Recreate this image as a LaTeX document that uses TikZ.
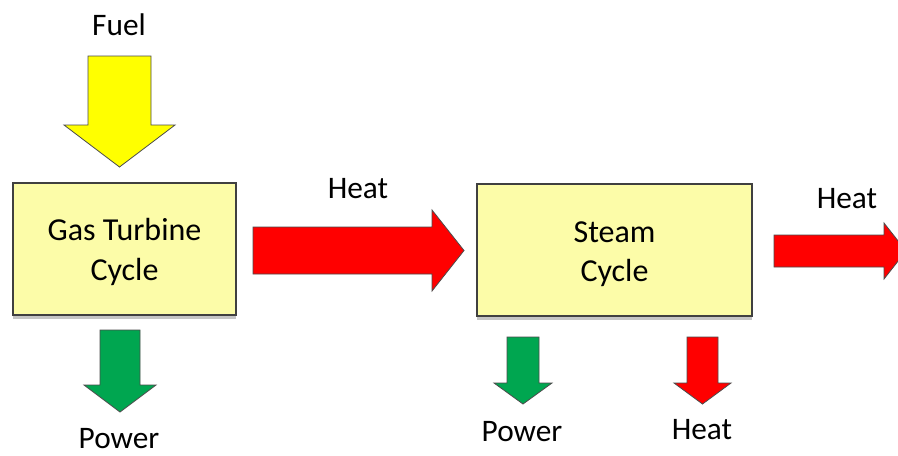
\documentclass[tikz,border=0pt]{standalone}
\usepackage{fontspec}
\setmainfont{Carlito}
\usetikzlibrary{shadows}
\definecolor{boxfill}{RGB}{252,252,168}
\definecolor{arrowyellow}{RGB}{255,255,0}
\definecolor{arrowred}{RGB}{255,0,0}
\definecolor{arrowgreen}{RGB}{0,166,80}
\tikzset{
  cyclebox/.style={draw=black!75, line width=0.8pt, fill=boxfill,
    drop shadow={shadow xshift=0pt, shadow yshift=-3pt, fill=black!45, opacity=0.5}},
  boxtext/.style={align=center, font=\fontsize{24}{29.5}\selectfont},
  lbl/.style={font=\fontsize{23.5}{27}\selectfont, inner sep=0pt},
  blockarrow/.style={draw=black!70, line width=0.6pt, line join=miter}
}
% down block arrow: cx, top, shafthalf, headstart, headhalf, tip
\newcommand\dnblock[7]{%
  \fill[#7,blockarrow] (#1-#3,#2) -- (#1+#3,#2) -- (#1+#3,#4) -- (#1+#5,#4) -- (#1,#6) -- (#1-#5,#4) -- (#1-#3,#4) -- cycle;}
% right block arrow: left, cy, shafthalf, headstart, headhalf, tip
\newcommand\rtblock[7]{%
  \fill[#7,blockarrow] (#1,#2-#3) -- (#4,#2-#3) -- (#4,#2-#5) -- (#6,#2) -- (#4,#2+#5) -- (#4,#2+#3) -- (#1,#2+#3) -- cycle;}
\begin{document}
\begin{tikzpicture}[x=0.75pt,y=-0.75pt]
\useasboundingbox[fill=white] (0,0) rectangle (898,455);
\clip (0,0) rectangle (898,455);
% boxes
\node[cyclebox, minimum width=167.25pt, minimum height=99pt] (gt) at (124.5,249) {};
\node[boxtext] (gtt) at (124.5,252) {Gas Turbine\\Cycle};
\node[cyclebox, minimum width=206.25pt, minimum height=99pt] (st) at (614.5,250) {};
\node[boxtext] (stt) at (614.5,254) {Steam\\Cycle};
% arrows
\dnblock{119.5}{56}{31.5}{125}{55.5}{167}{arrowyellow}
\rtblock{253}{250.5}{23.5}{432}{40.5}{464}{arrowred}
\rtblock{774}{251}{16}{884}{28}{906}{arrowred}
\dnblock{120}{330}{20}{385}{36}{412}{arrowgreen}
\dnblock{523}{337}{16}{383}{29}{404}{arrowgreen}
\dnblock{702.5}{337}{15.5}{383}{28.5}{404}{arrowred}
% labels
\node[lbl] (fuel) at (119,25) {Fuel};
\node[lbl] (heat1) at (358,189) {Heat};
\node[lbl] (heat2) at (847,199) {Heat};
\node[lbl] (pow1) at (119,439) {Power};
\node[lbl] (pow2) at (522,432) {Power};
\node[lbl] (heat3) at (702,430) {Heat};
\end{tikzpicture}
\end{document}
